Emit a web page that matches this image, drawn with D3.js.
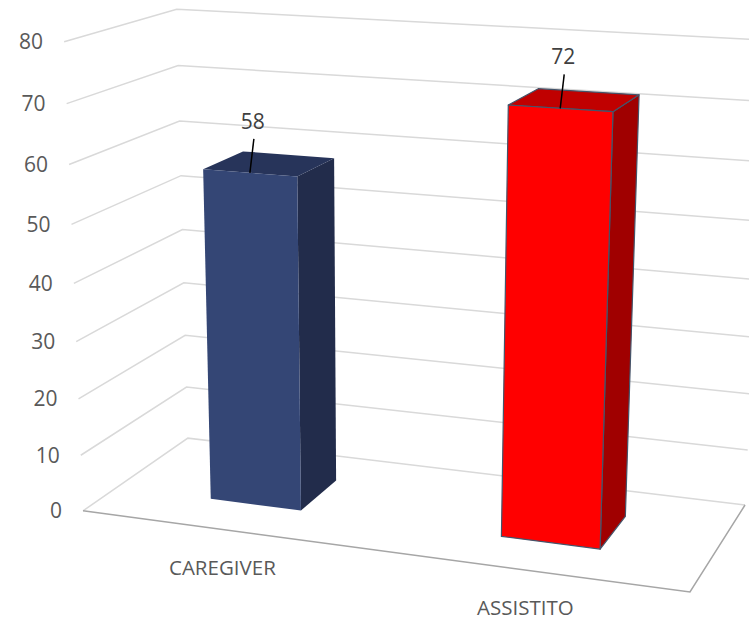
<!DOCTYPE html>
<html><head><meta charset="utf-8">
<script src="https://cdn.jsdelivr.net/npm/d3@7"></script>
<style>body{margin:0;background:#fff}svg{display:block}</style>
</head><body>
<svg id="chart" width="749" height="620"></svg>
<script>
// ---- data ----
const categories = ["CAREGIVER", "ASSISTITO"];
const values = [58, 72];
const yTicks = [0, 10, 20, 30, 40, 50, 60, 70, 80];

// ---- styles ----
const barStyles = [
  { front: "#344675", top: "#27345a", side: "#222c4b", stroke: "none" },
  { front: "#ff0000", top: "#c00000", side: "#a00000", stroke: "#44546a" }
];
const font = "'Open Sans', 'Noto Sans', sans-serif";

// ---- 3D box: x across categories [0,1], h height [0,1], z depth front->back [0,1] ----
// perspective camera (3x4 projection matrix, last entry 1)
const camera = [
  545.61561, -22.679415, 123.24120, 83.018878,
  28.531026, -471.55409, -29.695428, 510.82410,
  -0.088903714, -0.059251841, 0.098103367, 1
];
function project([X, H, Z]) {
  const c = camera;
  const w = c[8] * X + c[9] * H + c[10] * Z + c[11];
  return [(c[0] * X + c[1] * H + c[2] * Z + c[3]) / w,
          (c[4] * X + c[5] * H + c[6] * Z + c[7]) / w];
}

const svg = d3.select("#chart");
const y = d3.scaleLinear().domain([0, 80]).range([0, 1]);
const x = d3.scaleBand().domain(categories).range([0, 1]).paddingInner(0.68).paddingOuter(0.34);
const zFront = 0.31, zBack = 0.70;
const line = d3.line();

// side and back wall gridlines with value labels
const grid = svg.append("g");
yTicks.forEach(t => {
  const h = y(t);
  grid.append("path")
    .attr("d", line([project([0, h, 0]), project([0, h, 1]), project([1, h, 1])]))
    .attr("fill", "none").attr("stroke", "#d9d9d9").attr("stroke-width", 1.5);
  const a = project([0, h, 0]);
  grid.append("text")
    .attr("x", a[0] - 21).attr("y", a[1]).attr("dy", "0.36em")
    .attr("text-anchor", "end")
    .attr("font-family", font).attr("font-size", 21).attr("fill", "#595959")
    .text(t);
});

// floor outline (front and right edges)
svg.append("path")
  .attr("d", line([project([0, 0, 0]), project([1, 0, 0]), project([1, 0, 1])]))
  .attr("fill", "none").attr("stroke", "#a6a6a6").attr("stroke-width", 1.5);

// bars as boxes: front, top and right faces
categories.forEach((c, i) => {
  const x0 = x(c), x1 = x0 + x.bandwidth(), xm = x0 + x.bandwidth() / 2, h = y(values[i]);
  const s = barStyles[i];
  const faces = [
    { pts: [[x1, 0, zFront], [x1, 0, zBack], [x1, h, zBack], [x1, h, zFront]], fill: s.side },
    { pts: [[x0, h, zFront], [x1, h, zFront], [x1, h, zBack], [x0, h, zBack]], fill: s.top },
    { pts: [[x0, 0, zFront], [x1, 0, zFront], [x1, h, zFront], [x0, h, zFront]], fill: s.front }
  ];
  const g = svg.append("g");
  faces.forEach(f => g.append("path")
    .attr("d", line(f.pts.map(project)) + "Z")
    .attr("fill", f.fill).attr("stroke", s.stroke).attr("stroke-width", 1.2)
    .attr("stroke-linejoin", "round"));

  // value label with leader line
  const a = project([xm, h, zFront]);
  svg.append("line")
    .attr("x1", a[0]).attr("y1", a[1])
    .attr("x2", a[0] + 4).attr("y2", a[1] - 34)
    .attr("stroke", "#000").attr("stroke-width", 1.5);
  svg.append("text")
    .attr("x", a[0] + 3).attr("y", a[1] - 44)
    .attr("text-anchor", "middle")
    .attr("font-family", font).attr("font-size", 21).attr("fill", "#404040")
    .text(values[i]);

  // category label below the floor's front edge
  const b = project([xm, 0, 0]);
  svg.append("text")
    .attr("x", b[0] - 2).attr("y", b[1] + 45)
    .attr("text-anchor", "middle")
    .attr("font-family", font).attr("font-size", 20.5).attr("fill", "#595959")
    .text(c);
});
</script></body></html>
